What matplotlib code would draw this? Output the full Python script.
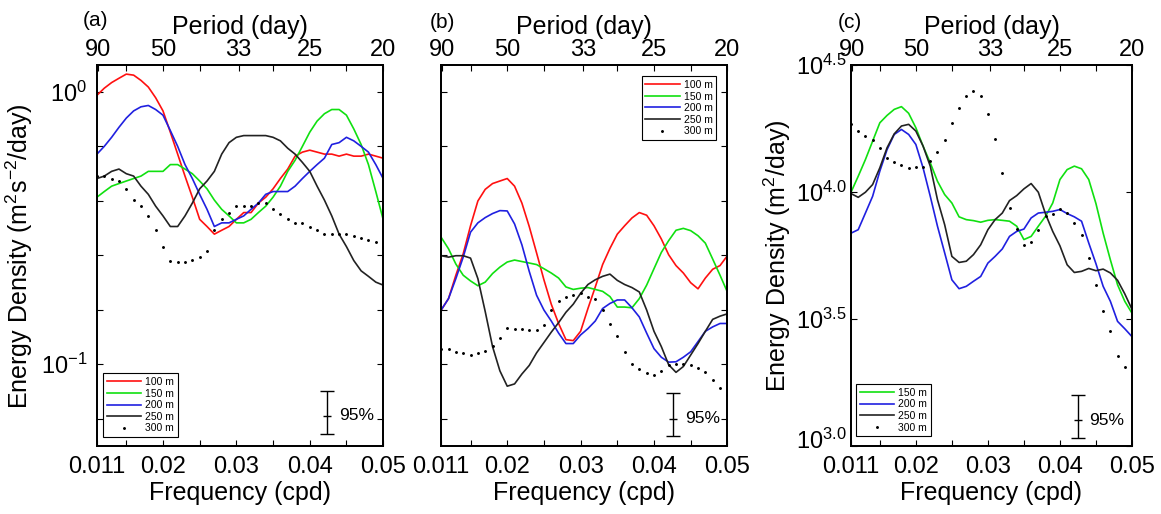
import matplotlib.pyplot as plt
from matplotlib.ticker import NullFormatter
from matplotlib.transforms import ScaledTranslation

plt.rcParams['font.family'] = ['Liberation Sans', 'DejaVu Sans']
plt.rcParams['mathtext.default'] = 'regular'

# frequency grid (cpd)
freq = [0.011, 0.012, 0.013, 0.014, 0.015, 0.016, 0.017, 0.018, 0.019, 0.020,
        0.021, 0.022, 0.023, 0.024, 0.025, 0.026, 0.027, 0.028, 0.029, 0.030,
        0.031, 0.032, 0.033, 0.034, 0.035, 0.036, 0.037, 0.038, 0.039, 0.040,
        0.041, 0.042, 0.043, 0.044, 0.045, 0.046, 0.047, 0.048, 0.049, 0.050]

# (a) energy density, m^2 s^-2 / day
a_100 = [0.97, 1.03, 1.08, 1.12, 1.16, 1.15, 1.10, 1.04, 0.95, 0.85,
         0.71, 0.59, 0.49, 0.41, 0.34, 0.32, 0.30, 0.31, 0.32, 0.34,
         0.36, 0.36, 0.39, 0.41, 0.44, 0.48, 0.52, 0.58, 0.60, 0.61,
         0.60, 0.59, 0.59, 0.58, 0.59, 0.58, 0.58, 0.59, 0.58, 0.57]
a_150 = [0.41, 0.43, 0.45, 0.46, 0.47, 0.48, 0.49, 0.51, 0.51, 0.51,
         0.54, 0.54, 0.52, 0.50, 0.47, 0.44, 0.40, 0.37, 0.35, 0.33,
         0.33, 0.34, 0.36, 0.38, 0.41, 0.45, 0.51, 0.56, 0.63, 0.71,
         0.78, 0.83, 0.86, 0.86, 0.82, 0.73, 0.64, 0.54, 0.43, 0.34]
a_200 = [0.59, 0.63, 0.68, 0.74, 0.80, 0.85, 0.88, 0.89, 0.86, 0.82,
         0.72, 0.63, 0.54, 0.48, 0.42, 0.37, 0.32, 0.33, 0.33, 0.34,
         0.35, 0.37, 0.39, 0.42, 0.43, 0.43, 0.43, 0.45, 0.48, 0.51,
         0.54, 0.57, 0.64, 0.65, 0.68, 0.66, 0.63, 0.60, 0.54, 0.48]
a_250 = [0.48, 0.49, 0.51, 0.52, 0.50, 0.49, 0.45, 0.42, 0.38, 0.35,
         0.32, 0.32, 0.35, 0.39, 0.44, 0.47, 0.51, 0.59, 0.65, 0.68,
         0.69, 0.69, 0.69, 0.69, 0.68, 0.66, 0.62, 0.59, 0.55, 0.51,
         0.45, 0.40, 0.35, 0.30, 0.27, 0.24, 0.22, 0.21, 0.20, 0.195]
a_300 = [0.49, 0.49, 0.48, 0.47, 0.44, 0.40, 0.38, 0.35, 0.31, 0.27,
         0.24, 0.237, 0.237, 0.242, 0.247, 0.26, 0.31, 0.34, 0.36, 0.38,
         0.38, 0.38, 0.39, 0.39, 0.37, 0.355, 0.34, 0.33, 0.33, 0.32,
         0.31, 0.30, 0.30, 0.30, 0.30, 0.296, 0.29, 0.286, 0.28, 0.27]

# (b)
b_100 = [0.158, 0.174, 0.212, 0.254, 0.322, 0.397, 0.438, 0.46, 0.47, 0.48,
         0.45, 0.39, 0.32, 0.256, 0.204, 0.166, 0.141, 0.123, 0.122, 0.132,
         0.160, 0.192, 0.232, 0.266, 0.30, 0.322, 0.344, 0.36, 0.352, 0.322,
         0.288, 0.252, 0.23, 0.216, 0.199, 0.189, 0.207, 0.223, 0.23, 0.25]
b_150 = [0.292, 0.265, 0.233, 0.212, 0.202, 0.194, 0.20, 0.215, 0.227, 0.237,
         0.241, 0.238, 0.235, 0.232, 0.224, 0.216, 0.207, 0.192, 0.188, 0.19,
         0.191, 0.188, 0.185, 0.177, 0.162, 0.162, 0.161, 0.174, 0.195, 0.224,
         0.257, 0.284, 0.31, 0.315, 0.309, 0.296, 0.278, 0.243, 0.212, 0.184]
b_200 = [0.158, 0.174, 0.206, 0.247, 0.305, 0.33, 0.345, 0.357, 0.366, 0.365,
         0.327, 0.274, 0.219, 0.179, 0.158, 0.144, 0.130, 0.119, 0.119, 0.128,
         0.135, 0.144, 0.16, 0.167, 0.172, 0.172, 0.161, 0.149, 0.130, 0.114,
         0.106, 0.1017, 0.102, 0.106, 0.111, 0.121, 0.132, 0.137, 0.141, 0.141]
b_250 = [0.25, 0.247, 0.25, 0.25, 0.245, 0.206, 0.156, 0.116, 0.0945, 0.083,
         0.0846, 0.092, 0.0989, 0.110, 0.12, 0.131, 0.142, 0.155, 0.166, 0.182,
         0.196, 0.204, 0.21, 0.214, 0.203, 0.196, 0.191, 0.184, 0.158, 0.132,
         0.116, 0.0995, 0.0933, 0.098, 0.108, 0.119, 0.132, 0.146, 0.150, 0.153]
b_300 = [0.114, 0.1135, 0.1106, 0.1096, 0.108, 0.1096, 0.1115, 0.117, 0.125, 0.136,
         0.135, 0.135, 0.1334, 0.1337, 0.139, 0.158, 0.170, 0.177, 0.18, 0.182,
         0.177, 0.174, 0.158, 0.14, 0.127, 0.111, 0.0997, 0.0962, 0.0925, 0.0914,
         0.0945, 0.0989, 0.1005, 0.1003, 0.0991, 0.0964, 0.0938, 0.0874, 0.0818, 0.077]

# (c) energy density, m^2 / day
c_150 = [10000, 11560, 13450, 15890, 18770, 20070, 21200, 21730, 20460, 17950,
         15200, 13060, 11050, 9790, 9070, 8000, 7800, 7730, 7620, 7750,
         7800, 7750, 7690, 7350, 6510, 6700, 7350, 8040, 9070, 11220,
         12280, 12670, 12370, 11220, 9020, 6900, 5420, 4320, 3720, 3340]
c_200 = [6900, 7120, 8280, 9640, 12110, 14710, 16890, 17670, 16890, 15420,
         12480, 9640, 7350, 5770, 4520, 4170, 4260, 4460, 4660, 5260,
         5590, 5980, 6700, 7010, 7160, 7920, 8280, 8340, 8410, 8550,
         8240, 8000, 7690, 6310, 5230, 4260, 3720, 3100, 2900, 2700]
c_250 = [9880, 9550, 10000, 10720, 12480, 14960, 16980, 18230, 18510, 17420,
         15200, 12670, 9350, 7450, 5590, 5290, 5350, 5680, 6210, 7120,
         7800, 8280, 9270, 9700, 10310, 10820, 10000, 8210, 7010, 6150,
         5180, 4830, 4880, 5010, 4910, 4980, 4810, 4500, 3980, 3460]
c_300 = [18500, 17420, 16630, 15990, 14920, 13700, 13100, 12820, 12480, 12560,
         12590, 13250, 14350, 15990, 18770, 21480, 23880, 25120, 23930, 20270,
         16250, 11920, 8670, 7160, 6210, 6370, 7120, 8040, 8240, 8620,
         8280, 7550, 6810, 5510, 4320, 3420, 2830, 2260, 2050, 1890]

# 95% confidence bars: freq, centre, low, high
ci_a = [0.0424, 0.0647, 0.0555, 0.0798]
ci_b = [0.0426, 0.063, 0.0547, 0.0785]
ci_c = [0.0425, 1265, 1075, 1589]

periods = [90, 50, 33, 25, 20]
freq_ticks = [0.011, 0.02, 0.03, 0.04, 0.05]
freq_minor = [0.015, 0.025, 0.035, 0.045]

styles = {
    '100 m': dict(color='#ff1010', lw=1.2),
    '150 m': dict(color='#10e010', lw=1.2),
    '200 m': dict(color='#2020e0', lw=1.2),
    '250 m': dict(color='#222222', lw=1.2),
    '300 m': dict(color='k', ls='none', marker='o', ms=1.1),
}


def setup(ax):
    top = ax.twiny()
    for a in (ax, top):
        a.set_xlim(0.011, 0.05)
    ax.set_xticks(freq_ticks)
    ax.set_xticklabels([f'{f:g}' for f in freq_ticks])
    ax.set_xticks(freq_minor, minor=True)
    ax.tick_params(which='both', direction='in', labelsize=17, right=True,
                   length=4, width=0.8)
    ax.tick_params(axis='x', pad=7)
    top.set_xticks([1 / p for p in periods])
    top.set_xticklabels([str(p) for p in periods])
    top.set_xticks(freq_minor, minor=True)
    top.tick_params(which='both', direction='in', labelsize=17, length=4,
                    width=0.8, pad=3)
    top.set_xlabel('Period (day)', fontsize=18, labelpad=4)
    ax.set_xlabel('Frequency (cpd)', fontsize=18, labelpad=2)
    for a in (ax, top):
        for s in a.spines.values():
            s.set_linewidth(1.3)


def draw(ax, series, ci, leg_loc, leg_anchor):
    for name, vals in series:
        ax.plot(freq, vals, label=name, **styles[name])
    x, y, lo, hi = ci
    ax.errorbar([x], [y], yerr=[[y - lo], [hi - y]], fmt='_', color='k',
                ms=6, capsize=5, elinewidth=1, capthick=1)
    ax.text(x + 0.0016, y, '95%', va='center', ha='left', fontsize=12.5)
    ax.legend(loc=leg_loc, bbox_to_anchor=leg_anchor, borderaxespad=0,
              fontsize=7.5, handlelength=3.3, labelspacing=0.15,
              borderpad=0.35, handletextpad=0.4, fancybox=False,
              edgecolor='k', framealpha=1).get_frame().set_linewidth(0.8)


fig = plt.figure(figsize=(11.61, 5.14), dpi=100)
ax_a = fig.add_axes([0.0835, 0.132, 0.2465, 0.741])
ax_b = fig.add_axes([0.380, 0.132, 0.2465, 0.741], sharey=ax_a)
ax_c = fig.add_axes([0.733, 0.132, 0.242, 0.741])

for ax in (ax_a, ax_b):
    ax.set_yscale('log')
    ax.set_ylim(0.05, 1.25)
    ax.set_yticks([0.1, 1])
    ax.set_yticklabels(['$10^{-1}$', '$10^{0}$'])
    ax.set_yticks([10 ** -0.2, 10 ** -0.4, 10 ** -0.6, 10 ** -0.8, 10 ** -1.2],
                  minor=True)
    ax.yaxis.set_minor_formatter(NullFormatter())

draw(ax_a, [('100 m', a_100), ('150 m', a_150), ('200 m', a_200),
            ('250 m', a_250), ('300 m', a_300)], ci_a,
     'lower left', (0.021, 0.024))
draw(ax_b, [('100 m', b_100), ('150 m', b_150), ('200 m', b_200),
            ('250 m', b_250), ('300 m', b_300)], ci_b,
     'upper right', (0.9615, 0.971))
ax_c.set_yscale('log')
draw(ax_c, [('150 m', c_150), ('200 m', c_200), ('250 m', c_250),
            ('300 m', c_300)], ci_c,
     'lower left', (0.018, 0.026))
ax_c.set_ylim(10 ** 3.0, 10 ** 4.5)
ax_c.set_yticks([10 ** 3.0, 10 ** 3.5, 10 ** 4.0, 10 ** 4.5])
ax_c.set_yticklabels(['$10^{3.0}$', '$10^{3.5}$', '$10^{4.0}$', '$10^{4.5}$'])
ax_c.set_yticks([], minor=True)

for ax in (ax_a, ax_b, ax_c):
    setup(ax)
ax_a.tick_params(axis='y', pad=7)
ax_c.tick_params(axis='y', pad=3)
ax_b.tick_params(axis='y', labelleft=False)

# lift the bottom label of (c) a little, as in the original
lab = ax_c.get_yticklabels()[0]
lab.set_transform(lab.get_transform() + ScaledTranslation(0, 5 / 72, fig.dpi_scale_trans))

ax_a.set_ylabel('Energy Density (m$^2$s$^{-2}$/day)', fontsize=18, labelpad=4)
ax_c.set_ylabel('Energy Density (m$^2$/day)', fontsize=18, labelpad=2)

fig.text(95 / 1161, 1 - 20 / 514, '(a)', fontsize=15, ha='center', va='center')
fig.text(442 / 1161, 1 - 22 / 514, '(b)', fontsize=15, ha='center', va='center')
fig.text(850 / 1161, 1 - 22 / 514, '(c)', fontsize=15, ha='center', va='center')

fig.savefig('out.png', dpi=100)
